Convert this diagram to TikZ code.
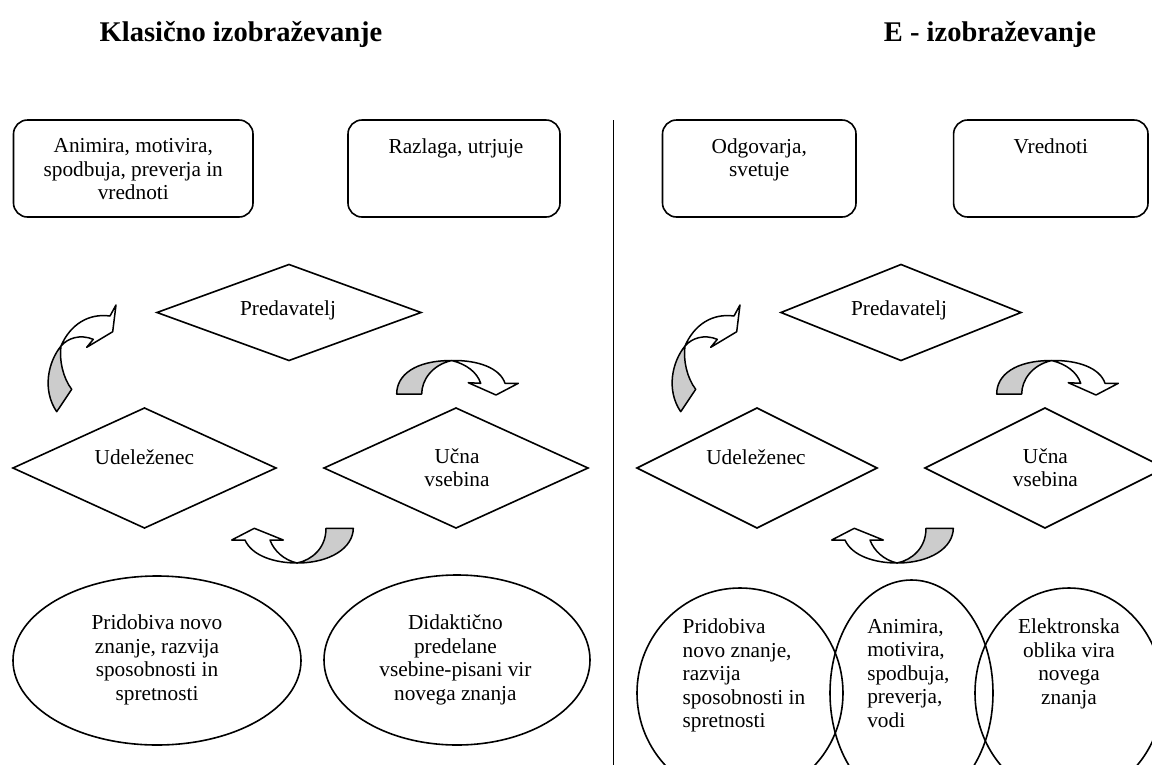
\documentclass[tikz,border=0pt]{standalone}
\usepackage{fontspec}
\setmainfont{Liberation Serif}
\usetikzlibrary{shapes.geometric}
\definecolor{bandgray}{RGB}{204,204,204}
\tikzset{
  arrA/.pic={
    \filldraw[band, fill=bandgray] (61,346) .. controls (48,362) and (42,390) .. (56.7,411.7)
      -- (71.7,389.3) .. controls (63,378) and (59,360) .. (61,346) -- cycle;
    \filldraw[band, fill=white] (61,346) .. controls (70,325) and (88,313) .. (110,316)
      -- (116,305) -- (112.7,331.7) -- (86.7,347.3) -- (93.3,339.3)
      .. controls (80,334) and (68,338) .. (61,346) -- cycle;
  },
  arrB/.pic={
    \filldraw[band, fill=bandgray] (396.7,394) .. controls (396.7,375) and (415,360.5) .. (451.7,360.5)
      .. controls (432,365) and (421.7,380) .. (421.7,394) -- cycle;
    \filldraw[band, fill=white] (451.7,360.5) .. controls (478,360) and (500,368) .. (505,383.3)
      -- (518.3,383.3) -- (496,395) -- (468.3,382.7) -- (480.7,383.3)
      .. controls (477,372) and (466,364) .. (451.7,360.5) -- cycle;
  },
  arrC/.pic={
    \filldraw[band, fill=white] (297,563) .. controls (275,563) and (252,556) .. (245,540)
      -- (231.7,540) -- (254.3,528.3) -- (283.3,540) -- (270,540)
      .. controls (274,551) and (284,560) .. (297,563) -- cycle;
    \filldraw[band, fill=bandgray] (297,563) .. controls (330,563) and (353,548) .. (353.3,528.3)
      -- (326,528.3) .. controls (326,548) and (312,560) .. (297,563) -- cycle;
  },
}
\begin{document}
\begin{tikzpicture}[x=1pt,y=-1pt,
  every node/.style={inner sep=0pt, outer sep=0pt},
  shp/.style={draw, line width=1.6pt},
  rbox/.style={shp, rectangle, rounded corners=14pt},
  dia/.style={shp, diamond},
  ell/.style={shp, ellipse},
  body/.style={font=\fontsize{21.3}{23.5}\selectfont, align=center},
  ttl/.style={font=\fontsize{28.5}{34}\selectfont\bfseries, anchor=base},
  band/.style={draw, line width=1.5pt, line join=round},
]
\useasboundingbox (0,0) rectangle (1152,764);
\clip (0,0) rectangle (1152,764);

% titles
\node[ttl] (title1) at (241,41) {Klasično izobraževanje};
\node[ttl] (title2) at (990,41) {E - izobraževanje};

% divider
\coordinate (dtop) at (613.5,120);
\coordinate (dbot) at (613.5,770);
\draw[line width=1.6pt] (dtop) -- (dbot);

% boxes
\node[rbox, minimum width=239.5, minimum height=97] (b1) at (133.25,168.5) {};
\node[rbox, minimum width=212, minimum height=97] (b2) at (454,168.5) {};
\node[rbox, minimum width=193.5, minimum height=97] (b3) at (759.25,168.5) {};
\node[rbox, minimum width=194.4, minimum height=97] (b4) at (1050.8,168.5) {};
\node[body] (tb1) at (133.25,169.4) {Animira, motivira,\\spodbuja, preverja in\\vrednoti};
\node[body, anchor=base] (tb2) at (456,153.3) {Razlaga, utrjuje};
\node[body] (tb3) at (759.25,160) {Odgovarja,\\svetuje};
\node[body, anchor=base] (tb4) at (1050.8,153.3) {Vrednoti};

% diamonds
\node[dia, minimum width=264, minimum height=96] (d1) at (289,312.5) {};
\node[dia, minimum width=263, minimum height=120] (d2) at (144.5,468) {};
\node[dia, minimum width=264, minimum height=120] (d3) at (456,468) {};
\node[dia, minimum width=240, minimum height=96] (d4) at (901,312.5) {};
\node[dia, minimum width=240, minimum height=120] (d5) at (757,468) {};
\node[dia, minimum width=240, minimum height=120] (d6) at (1045,468) {};
\node[body, anchor=base] (td1) at (288,315) {Predavatelj};
\node[body, anchor=base] (td2) at (144.3,464) {Udeleženec};
\node[body] (td3) at (457,467.8) {Učna\\vsebina};
\node[body, anchor=base] (td4) at (899,315) {Predavatelj};
\node[body, anchor=base] (td5) at (756,464) {Udeleženec};
\node[body] (td6) at (1045.4,467.8) {Učna\\vsebina};

% ellipses
\node[ell, minimum width=288, minimum height=169] (e1) at (157,660.5) {};
\node[ell, minimum width=266, minimum height=170] (e2) at (457,660) {};
\node[ell, minimum width=206, minimum height=210] (e3) at (740,693) {};
\node[ell, minimum width=163, minimum height=226] (e4) at (911.5,693) {};
\node[ell, minimum width=188, minimum height=210] (e5) at (1069,693) {};
\node[body] (te1) at (157,659.7) {Pridobiva novo\\znanje, razvija\\sposobnosti in\\spretnosti};
\node[body] (te2) at (455.4,659.7) {Didaktično\\predelane\\vsebine-pisani vir\\novega znanja};
\node[body, align=left, anchor=west] (te3) at (682.7,675.7) {Pridobiva\\novo znanje,\\razvija\\sposobnosti in\\spretnosti};
\node[body, align=left, anchor=west] (te4) at (867.3,673.4) {Animira,\\motivira,\\spodbuja,\\preverja,\\vodi};
\node[body] (te5) at (1069,664) {Elektronska\\oblika vira\\novega\\znanja};

% curved arrows
\pic at (0,0) {arrA};
\pic at (624,0) {arrA};
\pic at (0,0) {arrB};
\pic at (600,0) {arrB};
\pic at (0,0) {arrC};
\pic at (600,0) {arrC};
\end{tikzpicture}
\end{document}
